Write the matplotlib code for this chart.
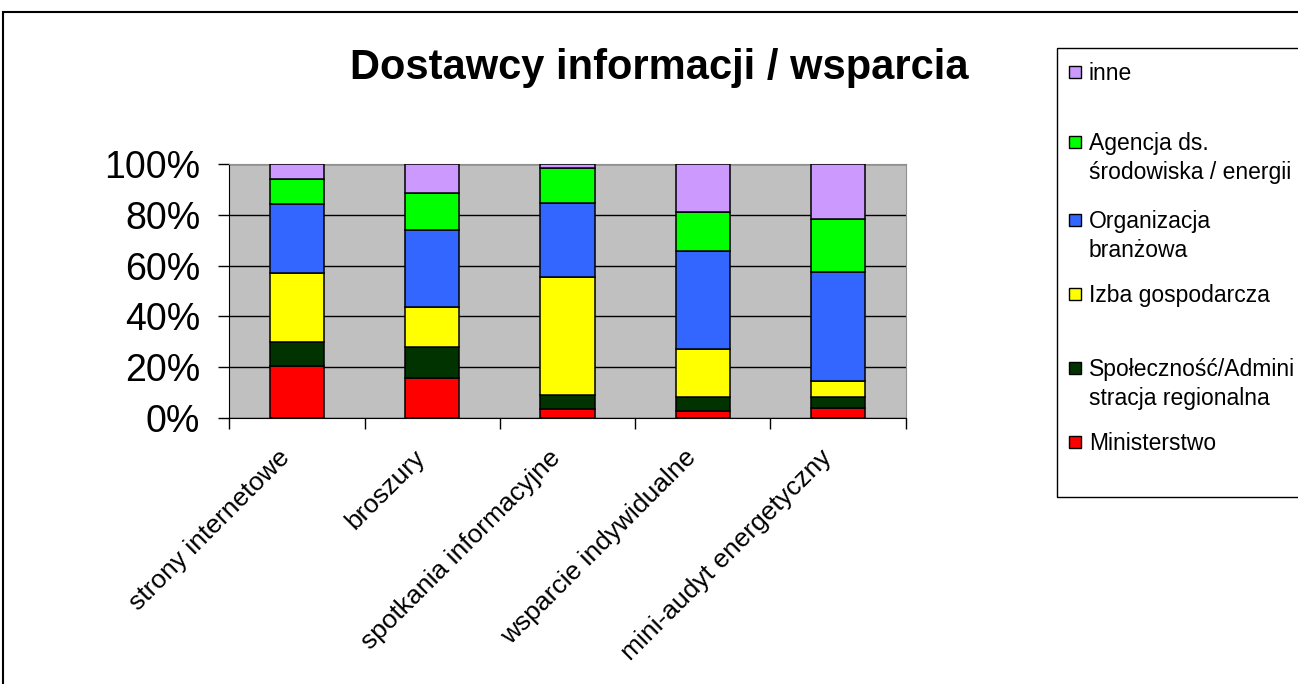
import matplotlib.pyplot as plt
from matplotlib.patches import Rectangle
from matplotlib.ticker import FixedLocator, PercentFormatter

plt.rcParams["font.family"] = ["Liberation Sans", "DejaVu Sans"]

categories = ["strony internetowe", "broszury", "spotkania informacyjne",
              "wsparcie indywidualne", "mini-audyt energetyczny"]

# shares in %, bottom to top
ministerstwo = [20.5, 15.7, 3.4, 2.6, 3.9]
spolecznosc = [9.2, 12.1, 5.7, 5.7, 4.4]
izba = [27.6, 15.9, 46.3, 18.7, 6.3]
organizacja = [27.0, 30.5, 29.2, 38.9, 42.9]
agencja = [9.9, 14.5, 13.8, 15.3, 20.9]
inne = [5.8, 11.3, 1.6, 18.8, 21.6]

series = [
    (["Ministerstwo"], ministerstwo, "#FF0000"),
    (["Społeczność/Admini", "stracja regionalna"], spolecznosc, "#003300"),
    (["Izba gospodarcza"], izba, "#FFFF00"),
    (["Organizacja", "branżowa"], organizacja, "#3366FF"),
    (["Agencja ds.", "środowiska / energii"], agencja, "#00FF00"),
    (["inne"], inne, "#CC99FF"),
]

W, H = 1298.0, 684.0
fig = plt.figure(figsize=(W / 100, H / 100), dpi=100)
ax = fig.add_axes([229.3 / W, 1 - 417.7 / H, 676.4 / W, 253.4 / H])
ax.set_facecolor("#C0C0C0")

x = range(len(categories))
bottom = [0.0] * len(categories)
for lines, vals, color in series:
    ax.bar(x, vals, width=0.4, bottom=bottom, color=color,
           edgecolor="black", linewidth=1.1, zorder=3)
    bottom = [b + v for b, v in zip(bottom, vals)]

ax.set_xlim(-0.5, len(categories) - 0.5)
ax.set_ylim(0, 100)
ax.yaxis.set_major_locator(FixedLocator([0, 20, 40, 60, 80, 100]))
ax.yaxis.set_major_formatter(PercentFormatter(decimals=0))
ax.grid(axis="y", color="black", linewidth=1, zorder=1)

# category labels, rotated, drawn next to each bar
ax.set_xticks([])
for i, cat in enumerate(categories):
    ax.annotate(cat, xy=(i, 0), xycoords=("data", "axes fraction"),
                xytext=(-7.5, -26), textcoords="offset points",
                rotation=45, ha="right", va="center",
                rotation_mode="anchor", fontsize=19)
ax.set_xticks([i - 0.5 for i in range(len(categories) + 1)], minor=True)
ax.tick_params(axis="x", which="minor", length=8, width=1, color="black")
ax.tick_params(axis="y", labelsize=27, length=8, width=1, pad=13)

for side in ["left", "bottom"]:
    ax.spines[side].set_color("black")
for side in ["top", "right"]:
    ax.spines[side].set_color("#909090")

fig.text(659 / W, 1 - 68 / H, "Dostawcy informacji / wsparcia", ha="center",
         va="center", fontsize=30, fontweight="bold")

# outer chart frame
fig.patches.append(Rectangle((3 / W, -0.05), 1.1, 1 - 12 / H + 0.05,
                             transform=fig.transFigure, fill=False,
                             edgecolor="black", linewidth=1.5))

# legend box
fig.patches.append(Rectangle((1057 / W, 1 - 497 / H), 0.3, (497 - 48) / H,
                             transform=fig.transFigure, fill=False,
                             edgecolor="black", linewidth=1))
legend_y = [442, 368, 294, 220, 142, 72]
for (lines, vals, color), yc in zip(series, legend_y):
    fig.patches.append(Rectangle((1069 / W, 1 - (yc + 6) / H), 12 / W, 12 / H,
                                 transform=fig.transFigure, facecolor=color,
                                 edgecolor="black", linewidth=1))
    for i, line in enumerate(lines):
        fig.text(1089 / W, 1 - (yc + 8 + i * 29) / H, line, ha="left",
                 va="baseline", fontsize=16.5)

fig.savefig("out.png", dpi=100)
